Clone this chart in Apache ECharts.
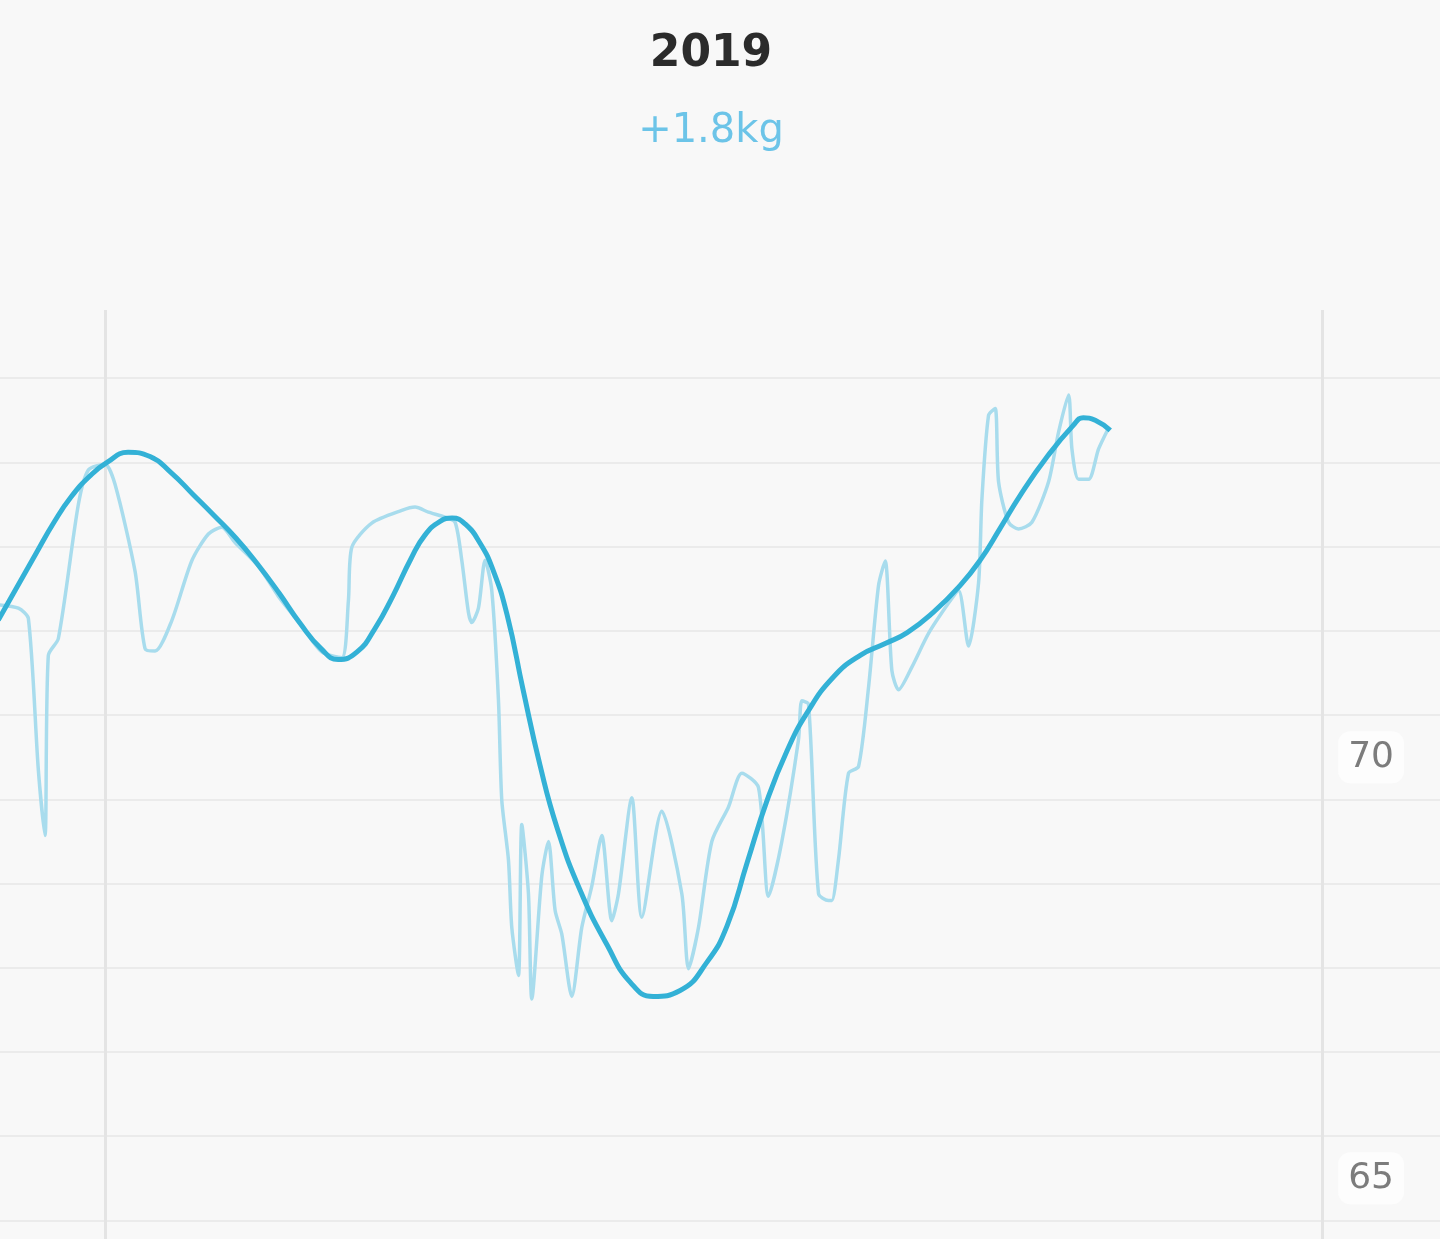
<!DOCTYPE html>
<html><head><meta charset="utf-8">
<script src="https://cdn.jsdelivr.net/npm/echarts@6/dist/echarts.min.js"></script>
<style>html,body{margin:0;padding:0;background:#f8f8f8}#c{width:1440px;height:1239px}</style>
</head><body><div id="c"></div>
<script>
const titleText = '2019';
const subtitleText = '+1.8kg';

// day offset from 2019-01-01, daily weight (kg)
const rawDays = [-32,-26,-23,-20,-18,-17,-14,-8,-5,0,3,9,12,15,20,26,31,35,39,46,52,59,65,71,73,74,80,89,93,97,102,105,107,109,110,112,114,116,118,119,121,122,124,125,127,128,131,133,135,137,140,143,146,149,152,154,158,161,167,173,175,178,182,187,191,196,199,203,208,209,211,214,217,218,220,223,226,229,232,234,236,238,242,247,253,256,259,262,263,265,267,268,271,274,278,283,286,289,290,292,295,298,301];
const rawKg = [71.81,71.77,71.65,69.85,69.07,71.21,71.41,73.00,73.41,73.48,73.24,72.21,71.29,71.26,71.62,72.33,72.65,72.73,72.55,72.27,71.91,71.56,71.25,71.18,71.86,72.49,72.78,72.93,72.97,72.91,72.85,72.79,72.34,71.72,71.60,71.77,72.34,71.98,70.68,69.49,68.78,67.98,67.41,69.20,68.38,67.13,68.59,69.00,68.18,67.90,67.16,67.98,68.47,69.07,68.06,68.38,69.52,68.10,69.36,68.38,67.49,67.98,69.00,69.41,69.81,69.64,68.35,69.00,70.21,70.67,70.63,68.38,68.30,68.30,68.79,69.81,69.89,70.83,72.04,72.33,71.03,70.80,71.07,71.47,71.83,71.98,71.32,72.07,73.06,74.06,74.14,73.27,72.79,72.71,72.79,73.27,73.86,74.30,73.66,73.30,73.30,73.66,73.91];

// smoothed trend
const trendDays = [-32,-20.7,-15.3,-10.2,-4.5,0.6,6.9,13.5,19.8,26.4,32.7,39.3,45.6,52.2,58.5,64.8,69.9,75.6,81.0,86.4,91.8,96.0,100.5,104.1,108.0,112.5,116.4,120.6,125.4,130.5,135.6,142.5,150.6,157.5,164.4,172.5,180.6,186.6,192.6,198.6,204.6,210.6,218.4,226.5,234.0,240.6,248.4,256.5,262.5,268.5,274.5,282.6,290.4,293.4,297.0,301.5];
const trendKg = [71.63,72.42,72.79,73.09,73.34,73.50,73.62,73.57,73.38,73.12,72.87,72.60,72.30,71.95,71.59,71.29,71.16,71.25,71.53,71.92,72.36,72.64,72.80,72.84,72.77,72.54,72.22,71.69,70.80,69.90,69.16,68.42,67.77,67.33,67.16,67.23,67.57,68.00,68.75,69.49,70.08,70.53,70.95,71.21,71.35,71.48,71.72,72.04,72.34,72.72,73.11,73.57,73.94,74.03,74.00,73.88];

const gridKg = [64.5,65.5,66.5,67.5,68.5,69.5,70.5,71.5,72.5,73.5,74.5];
const labelKg = [65, 70];
const yearBounds = [0, 365];

const chart = echarts.init(document.getElementById('c'), null, {renderer: 'canvas'});
const zip = (a, b) => a.map((v, i) => [v, b[i]]);

chart.setOption({
  backgroundColor: '#f8f8f8',
  animation: false,
  title: {
    text: titleText,
    subtext: subtitleText,
    left: 706,
    textAlign: 'center',
    top: 28,
    itemGap: 35,
    textStyle: {fontFamily: 'DejaVu Sans', fontSize: 44, fontWeight: 'bold', color: '#2b2b2b'},
    subtextStyle: {fontFamily: 'DejaVu Sans', fontSize: 40, color: '#6cc4e8'}
  },
  grid: {left: 0, right: 0, top: 310, bottom: 0},
  xAxis: {
    type: 'value', min: -31.5, max: 400.4,
    axisLine: {show: false},
    axisTick: {show: false, customValues: yearBounds},
    axisLabel: {show: false},
    splitLine: {show: true, lineStyle: {color: '#e4e4e4', width: 3}}
  },
  yAxis: {
    type: 'value', min: 64.28, max: 75.31, position: 'right',
    axisLine: {show: false},
    axisTick: {show: false, customValues: gridKg},
    axisLabel: {
      show: true, inside: true, margin: 36, customValues: labelKg,
      fontFamily: 'DejaVu Sans', fontSize: 36, color: '#7c7c7c',
      backgroundColor: '#fdfdfd', padding: [8, 10], borderRadius: 12
    },
    splitLine: {show: true, lineStyle: {color: '#ebebeb', width: 2}}
  },
  series: [
    {
      type: 'line', data: zip(rawDays, rawKg), smooth: 0.25, showSymbol: false,
      lineStyle: {color: '#a8dced', width: 3.5}, z: 2
    },
    {
      type: 'line', data: zip(trendDays, trendKg), smooth: 0.5, showSymbol: false,
      lineStyle: {color: '#33b1d6', width: 5}, z: 3
    }
  ]
});
</script>
</body></html>
